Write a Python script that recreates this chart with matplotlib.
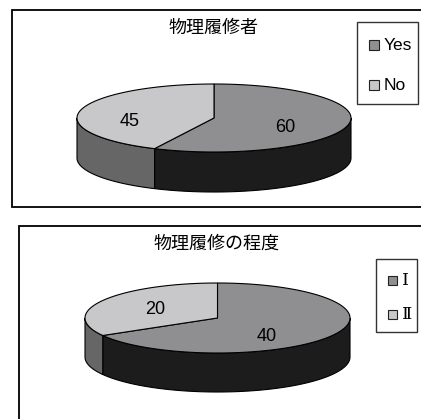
import numpy as np
import matplotlib
matplotlib.use('Agg')
import matplotlib.pyplot as plt
from matplotlib.patches import Polygon, Rectangle

plt.rcParams['font.family'] = ['Noto Sans CJK JP', 'DejaVu Sans']

# --- data ---
titel1 = '物理履修者'
kategooriad1 = ['Yes', 'No']
vaartused1 = [60, 45]

titel2 = '物理履修の程度'
kategooriad2 = ['Ⅰ', 'Ⅱ']
vaartused2 = [40, 20]

top_varvid = ['#8f8f92', '#c8c8ca']
kulje_varvid = ['#1c1c1c', '#666666']


def pirukas3d(ax, vaartused, cx, cy, rx, ry, syvus, silt_pos):
    """3D-stiilis sektordiagramm: algab ülevalt ja liigub päripäeva."""
    kokku = float(sum(vaartused))
    nurgad = [90.0]
    for v in vaartused:
        nurgad.append(nurgad[-1] - v / kokku * 360.0)

    def punkt(t, dy=0.0):
        r = np.radians(t)
        return cx + rx * np.cos(r), cy - ry * np.sin(r) + dy

    # küljed (ainult esipool, kus sin < 0)
    for i in range(len(vaartused)):
        a_hi, a_lo = nurgad[i], nurgad[i + 1]
        for k in range(-2, 2):
            lo = max(a_lo, -180.0 + 360 * k)
            hi = min(a_hi, 0.0 + 360 * k)
            if hi <= lo:
                continue
            t = np.linspace(hi, lo, 120)
            xs, ys = punkt(t)
            xb, yb = punkt(t[::-1], syvus)
            pts = np.column_stack([np.r_[xs, xb], np.r_[ys, yb]])
            ax.add_patch(Polygon(pts, closed=True, facecolor=kulje_varvid[i],
                                 edgecolor='black', linewidth=0.8, zorder=2))

    # pealmised pinnad
    for i in range(len(vaartused)):
        t = np.linspace(nurgad[i], nurgad[i + 1], 200)
        xs, ys = punkt(t)
        pts = np.column_stack([np.r_[cx, xs], np.r_[cy, ys]])
        ax.add_patch(Polygon(pts, closed=True, facecolor=top_varvid[i],
                             edgecolor='black', linewidth=0.8, zorder=3))

    # sildid: silt_pos on samas järjekorras kui vaartused
    for v, (sx, sy) in zip(vaartused, silt_pos):
        ax.text(sx, sy, str(v), ha='center', va='center', fontsize=13,
                family=['Liberation Sans'], zorder=4)


def legend(ax, x0, y0, w, h, nimed, ridade_y, ruut, tekst_x, pere):
    ax.add_patch(Rectangle((x0, y0), w, h, facecolor='white',
                           edgecolor='#333333', linewidth=1.0, zorder=5))
    for i, (nimi, yy) in enumerate(zip(nimed, ridade_y)):
        ax.add_patch(Rectangle((x0 + ruut[0], yy - ruut[1] / 2), ruut[1], ruut[1],
                               facecolor=top_varvid[i], edgecolor='#222222',
                               linewidth=0.8, zorder=6))
        ax.text(tekst_x, yy, nimi, ha='left', va='center', fontsize=12.5,
                family=pere, zorder=6)


fig = plt.figure(figsize=(4.21, 4.19), dpi=100)
ax = fig.add_axes([0, 0, 1, 1])
ax.set_xlim(0, 421)
ax.set_ylim(419, 0)
ax.axis('off')

# paneel 1
ax.add_patch(Rectangle((12, 10), 430, 197, facecolor='white',
                       edgecolor='black', linewidth=1.3, zorder=1))
ax.text(213, 28, titel1, ha='center', va='center', fontsize=13, zorder=4)
pirukas3d(ax, vaartused1, 214, 118, 137, 34, 40, [(285, 127), (130, 121)])
legend(ax, 357, 22, 61, 82, kategooriad1, [45, 85], (12, 10), 384,
       ['Liberation Sans'])

# paneel 2
ax.add_patch(Rectangle((19, 226), 430, 220, facecolor='white',
                       edgecolor='black', linewidth=1.3, zorder=1))
ax.text(216, 244, titel2, ha='center', va='center', fontsize=13, zorder=4)
pirukas3d(ax, vaartused2, 217.5, 318, 132.5, 35, 39, [(267, 336), (155, 309)])
legend(ax, 376, 259, 41, 73, kategooriad2, [280, 314], (12, 9), 402,
       ['DejaVu Serif', 'Noto Sans CJK JP'])

fig.savefig('out.png', dpi=100)
